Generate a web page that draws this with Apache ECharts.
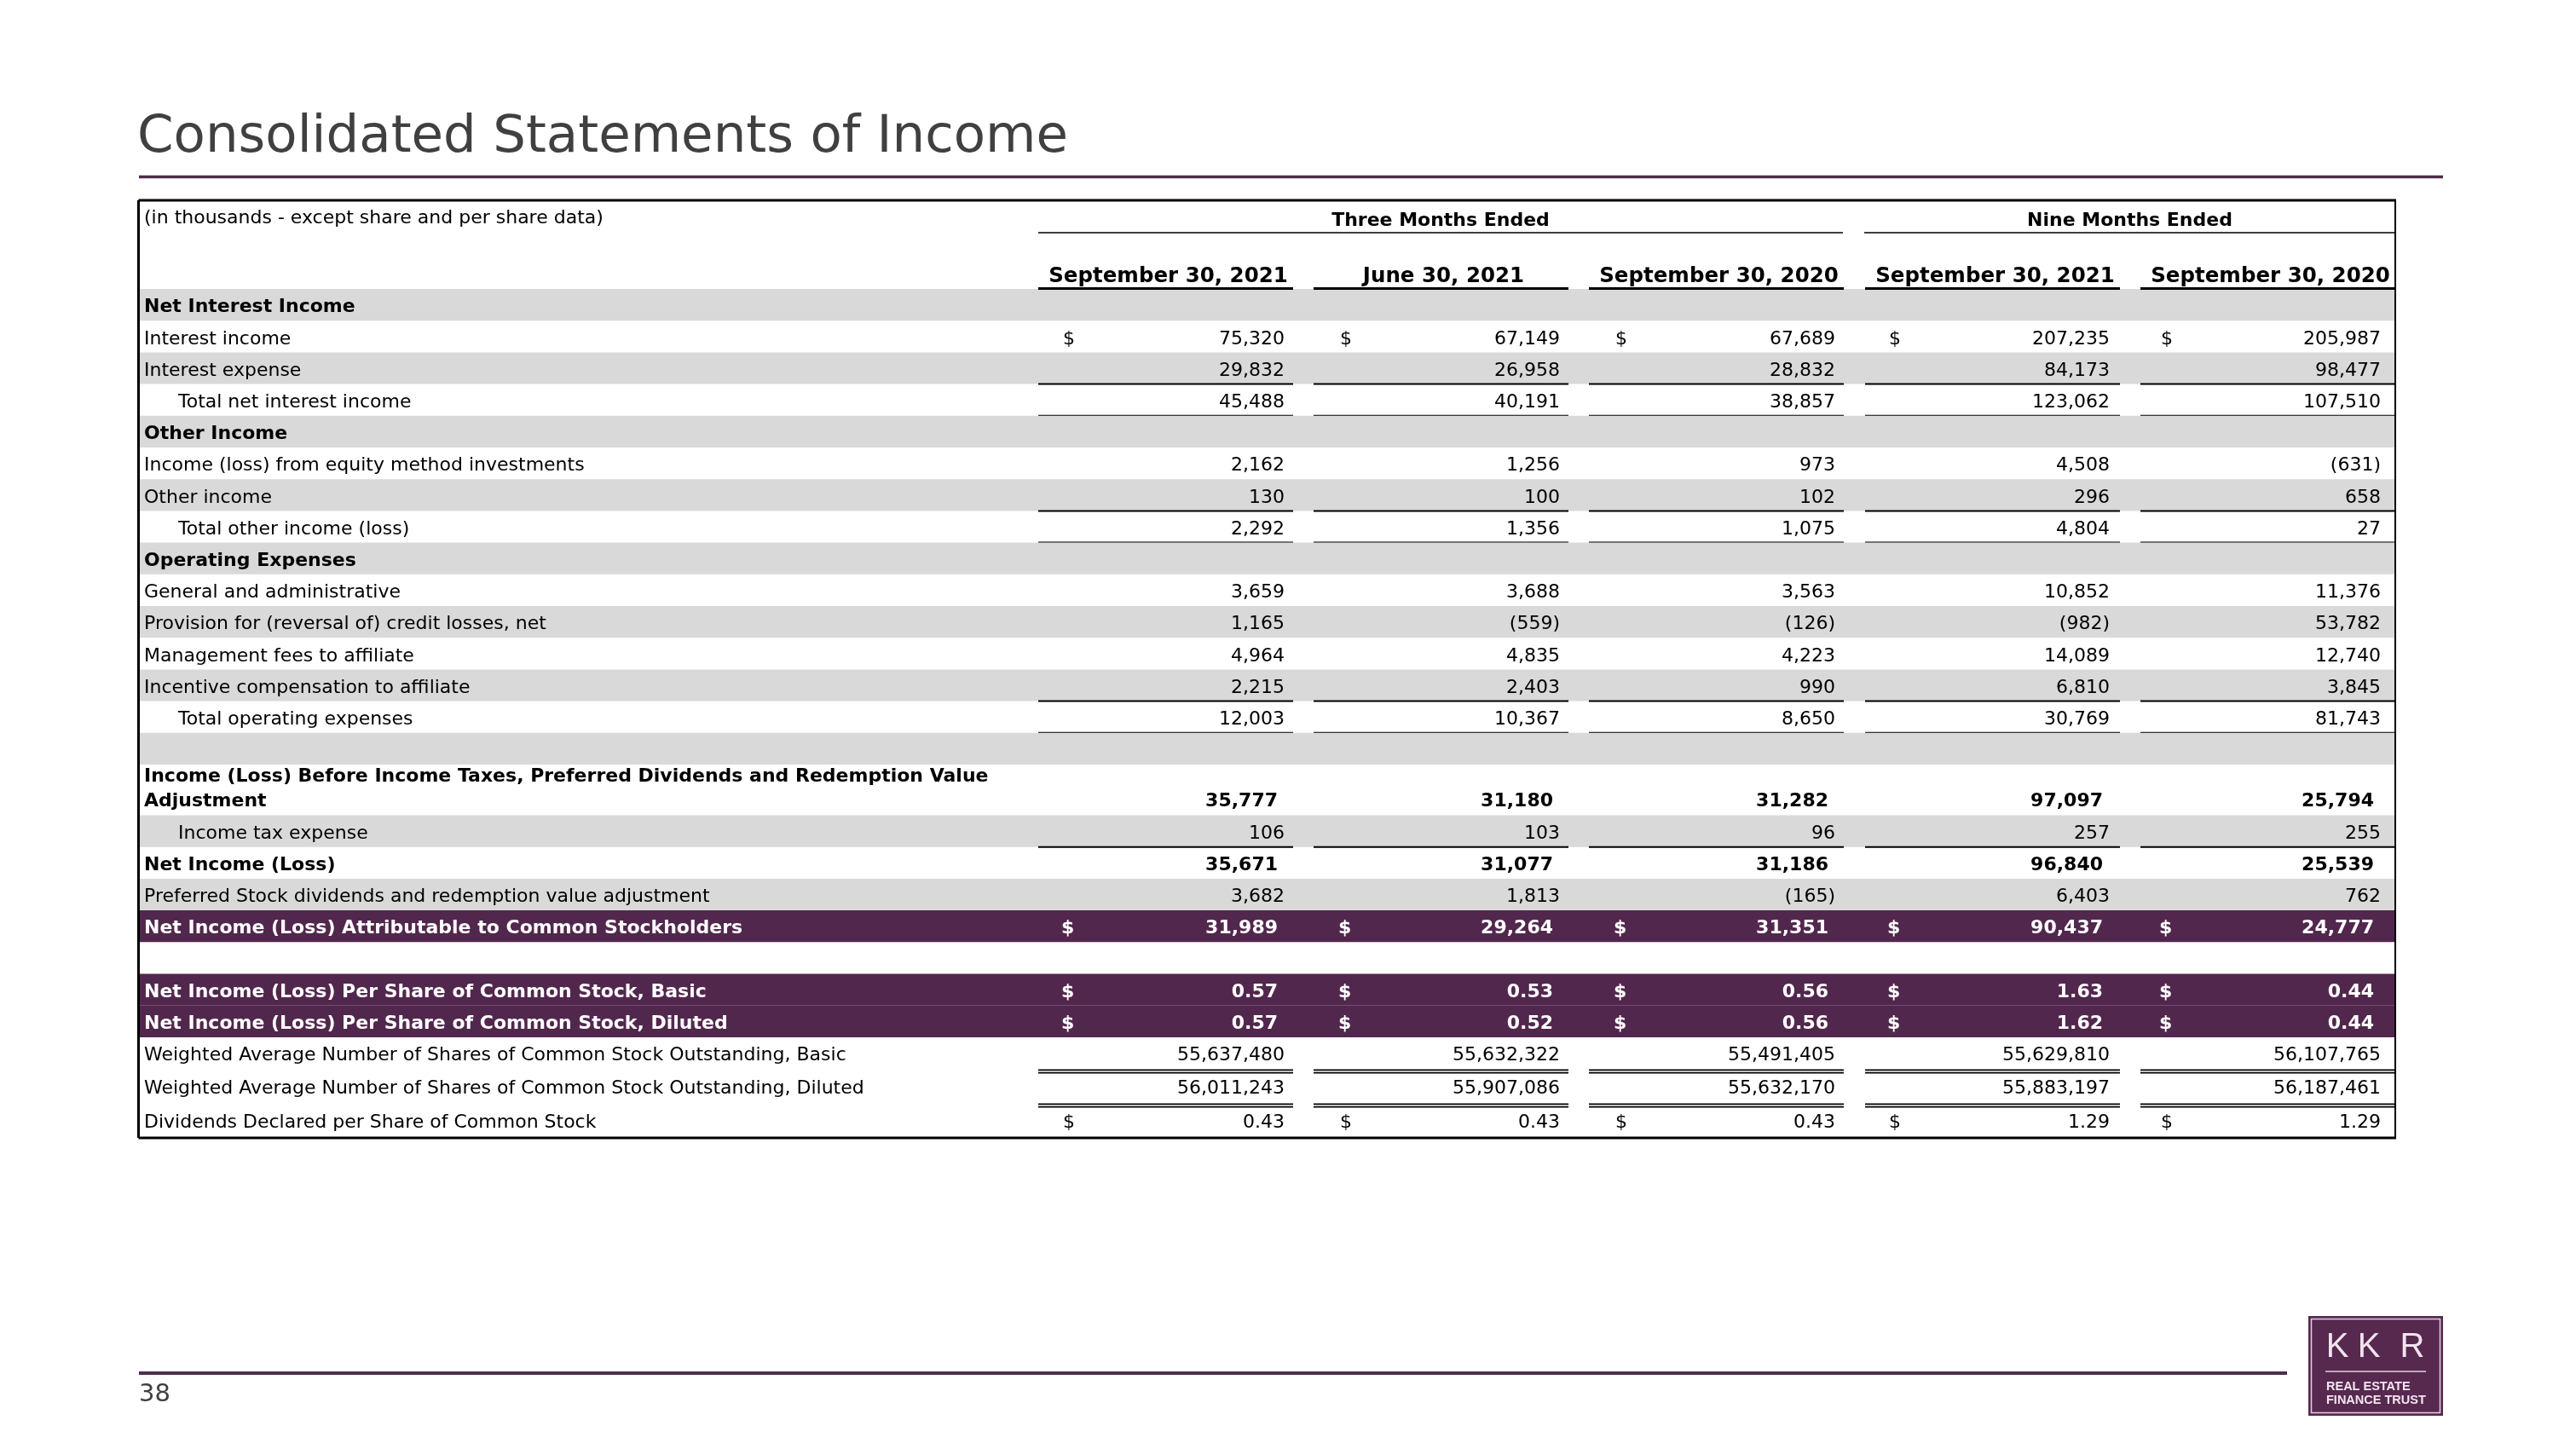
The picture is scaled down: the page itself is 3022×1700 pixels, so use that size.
<!DOCTYPE html>
<html>
<head>
<meta charset="utf-8">
<script src="https://cdn.jsdelivr.net/npm/echarts@6/dist/echarts.min.js"></script>
<style>html,body{margin:0;padding:0;background:#fff}#c{width:3022px;height:1700px}</style>
</head>
<body>
<div id="c"></div>
<script>
// ---------------- data ----------------
const pageTitle = 'Consolidated Statements of Income';
const unitNote = '(in thousands - except share and per share data)';
const groupHeaders = ['Three Months Ended', 'Nine Months Ended'];
const columnHeaders = ['September 30, 2021', 'June 30, 2021', 'September 30, 2020', 'September 30, 2021', 'September 30, 2020'];
const pageNumber = '38';

const rowLabels = [
  'Net Interest Income',
  'Interest income',
  'Interest expense',
  'Total net interest income',
  'Other Income',
  'Income (loss) from equity method investments',
  'Other income',
  'Total other income (loss)',
  'Operating Expenses',
  'General and administrative',
  'Provision for (reversal of) credit losses, net',
  'Management fees to affiliate',
  'Incentive compensation to affiliate',
  'Total operating expenses',
  '',
  'Income (Loss) Before Income Taxes, Preferred Dividends and Redemption Value\nAdjustment',
  'Income tax expense',
  'Net Income (Loss)',
  'Preferred Stock dividends and redemption value adjustment',
  'Net Income (Loss) Attributable to Common Stockholders',
  '',
  'Net Income (Loss) Per Share of Common Stock, Basic',
  'Net Income (Loss) Per Share of Common Stock, Diluted',
  'Weighted Average Number of Shares of Common Stock Outstanding, Basic',
  'Weighted Average Number of Shares of Common Stock Outstanding, Diluted',
  'Dividends Declared per Share of Common Stock'
];

const interestIncome = [75320, 67149, 67689, 207235, 205987];
const interestExpense = [29832, 26958, 28832, 84173, 98477];
const totalNetInterestIncome = [45488, 40191, 38857, 123062, 107510];
const equityMethodIncome = [2162, 1256, 973, 4508, -631];
const otherIncome = [130, 100, 102, 296, 658];
const totalOtherIncome = [2292, 1356, 1075, 4804, 27];
const generalAdmin = [3659, 3688, 3563, 10852, 11376];
const creditLosses = [1165, -559, -126, -982, 53782];
const managementFees = [4964, 4835, 4223, 14089, 12740];
const incentiveComp = [2215, 2403, 990, 6810, 3845];
const totalOpex = [12003, 10367, 8650, 30769, 81743];
const incomeBeforeTaxes = [35777, 31180, 31282, 97097, 25794];
const incomeTax = [106, 103, 96, 257, 255];
const netIncome = [35671, 31077, 31186, 96840, 25539];
const preferredDividends = [3682, 1813, -165, 6403, 762];
const netIncomeCommon = [31989, 29264, 31351, 90437, 24777];
const epsBasic = [0.57, 0.53, 0.56, 1.63, 0.44];
const epsDiluted = [0.57, 0.52, 0.56, 1.62, 0.44];
const sharesBasic = [55637480, 55632322, 55491405, 55629810, 56107765];
const sharesDiluted = [56011243, 55907086, 55632170, 55883197, 56187461];
const dividendsPerShare = [0.43, 0.43, 0.43, 1.29, 1.29];

const rowValues = [
  null, interestIncome, interestExpense, totalNetInterestIncome,
  null, equityMethodIncome, otherIncome, totalOtherIncome,
  null, generalAdmin, creditLosses, managementFees, incentiveComp, totalOpex,
  null, incomeBeforeTaxes, incomeTax, netIncome, preferredDividends, netIncomeCommon,
  null, epsBasic, epsDiluted, sharesBasic, sharesDiluted, dividendsPerShare
];
const dollarRows = [1, 19, 21, 22, 25];
const decimalRows = [21, 22, 25];

// ---------------- layout / style ----------------
const FONT = '"DejaVu Sans", Verdana, sans-serif';
const GRAY = '#D9D9D9';
const PURPLE = '#52274D';
const RULE = '#4E2D4B';
const TITLE_INK = '#404040';
const T = { left: 164, top: 235, right: 2810, bottom: 1335 };
const TW = T.right - T.left, TH = T.bottom - T.top;
const bodyTop = 104;
const rowFill = ['g','w','g','w','g','w','g','w','g','w','g','w','g','w','g','w','g','w','g','p','w','p','p','w','w','w'];
const boldRows = [0, 4, 8, 15, 17, 19, 21, 22];
const indentRows = [3, 7, 13, 16];
const lineTopRows = [3, 7, 13];
const lineBottomRows = [3, 7, 13, 16];
const doubleBottomRows = [23, 24];
const rowH = rowLabels.map((_, i) => i === 15 ? 59.5 : i === 24 ? 40 : i === 25 ? 41 : 37.2);
const rowTop = [];
{ let acc = bodyTop; rowH.forEach(h => { rowTop.push(acc); acc += h; }); }
const colStart = [1218, 1541, 1864, 2188, 2511].map(v => v - T.left);
const colWidth = 299;
const numRight = [1507, 1830, 2153, 2475, 2793].map(v => v - T.left);
const dollarLeft = [1247, 1572, 1895, 2216, 2535].map(v => v - T.left);
const TEXT_DY = 3;

function fmt(v, dec) {
  const s = Math.abs(v).toLocaleString('en-US', { minimumFractionDigits: dec, maximumFractionDigits: dec });
  return v < 0 ? '(' + s + ')' : s;
}

function renderRow(params, api) {
  const i = api.value(0);
  const top = rowTop[i], h = rowH[i];
  const p0 = api.coord([0, top]);
  const p1 = api.coord([TW, top + h]);
  const children = [];
  const fill = rowFill[i] === 'g' ? GRAY : rowFill[i] === 'p' ? PURPLE : null;
  if (fill) {
    children.push({ type: 'rect', shape: { x: p0[0], y: p0[1], width: p1[0] - p0[0], height: p1[1] - p0[1] }, style: { fill: fill } });
  }
  const bold = boldRows.indexOf(i) >= 0;
  const color = rowFill[i] === 'p' ? '#FFFFFF' : '#000000';
  const cy = (p0[1] + p1[1]) / 2 + TEXT_DY;
  const labelX = api.coord([indentRows.indexOf(i) >= 0 ? 45 : 5, 0])[0];
  const twoLine = rowLabels[i].indexOf('\n') >= 0;
  const labelY = twoLine ? cy - 4 : cy;
  const valueY = twoLine ? cy + 10.5 : cy;
  if (rowLabels[i]) {
    children.push({ type: 'text', style: { x: labelX, y: labelY, text: rowLabels[i], fill: color,
      fontFamily: FONT, fontSize: 22, fontWeight: bold ? 'bold' : 'normal', lineHeight: 29,
      align: 'left', verticalAlign: 'middle' } });
  }
  const vals = rowValues[i];
  if (vals) {
    const dec = decimalRows.indexOf(i) >= 0 ? 2 : 0;
    vals.forEach((v, c) => {
      const rx = api.coord([numRight[c] - (bold ? 8 : 0), 0])[0];
      children.push({ type: 'text', style: { x: rx, y: valueY, text: fmt(v, dec), fill: color,
        fontFamily: FONT, fontSize: 22, fontWeight: bold ? 'bold' : 'normal', align: 'right', verticalAlign: 'middle' } });
      if (dollarRows.indexOf(i) >= 0) {
        const dx = api.coord([dollarLeft[c] - (bold ? 2 : 0), 0])[0];
        children.push({ type: 'text', style: { x: dx, y: valueY, text: '$', fill: color,
          fontFamily: FONT, fontSize: 22, fontWeight: bold ? 'bold' : 'normal', align: 'left', verticalAlign: 'middle' } });
      }
    });
  }
  colStart.forEach(cs => {
    const x1 = api.coord([cs, 0])[0], x2 = api.coord([cs + colWidth, 0])[0];
    if (lineTopRows.indexOf(i) >= 0) {
      children.push({ type: 'line', shape: { x1: x1, y1: p0[1], x2: x2, y2: p0[1] }, style: { stroke: '#000', lineWidth: 2 } });
    }
    if (lineBottomRows.indexOf(i) >= 0) {
      children.push({ type: 'line', shape: { x1: x1, y1: p1[1], x2: x2, y2: p1[1] }, style: { stroke: '#000', lineWidth: 2 } });
    }
    if (doubleBottomRows.indexOf(i) >= 0) {
      children.push({ type: 'line', shape: { x1: x1, y1: p1[1] + 1.3, x2: x2, y2: p1[1] + 1.3 }, style: { stroke: '#000', lineWidth: 1.8 } });
      children.push({ type: 'line', shape: { x1: x1, y1: p1[1] + 4.6, x2: x2, y2: p1[1] + 4.6 }, style: { stroke: '#000', lineWidth: 1.8 } });
    }
  });
  return { type: 'group', children: children };
}

// ---------------- header / page graphics ----------------
const graphics = [];
graphics.push({ type: 'text', left: 161, top: 132, z: 10, style: { text: pageTitle, fill: TITLE_INK, fontFamily: FONT, fontSize: 61 } });
graphics.push({ type: 'line', z: 10, shape: { x1: 163, y1: 207.5, x2: 2866, y2: 207.5 }, style: { stroke: RULE, lineWidth: 3.5 } });
graphics.push({ type: 'text', z: 10, x: 169, y: 256, style: { text: unitNote, fill: '#000', fontFamily: FONT, fontSize: 22, align: 'left', verticalAlign: 'middle' } });
const groupSpans = [[1218, 2162], [2187, 2810]];
groupHeaders.forEach((g, k) => {
  const sp = groupSpans[k];
  graphics.push({ type: 'text', z: 10, x: (sp[0] + sp[1]) / 2, y: 259, style: { text: g, fill: '#000', fontFamily: FONT, fontSize: 22, fontWeight: 'bold', align: 'center', verticalAlign: 'middle' } });
  graphics.push({ type: 'line', z: 10, shape: { x1: sp[0], y1: 273, x2: sp[1], y2: 273 }, style: { stroke: '#000', lineWidth: 1.5 } });
});
columnHeaders.forEach((h, c) => {
  const x0 = colStart[c] + T.left;
  graphics.push({ type: 'text', z: 10, x: x0 + colWidth / 2 + 3, y: 325, style: { text: h, fill: '#000', fontFamily: FONT, fontSize: 24.5, fontWeight: 'bold', align: 'center', verticalAlign: 'middle' } });
  graphics.push({ type: 'line', z: 10, shape: { x1: x0, y1: 338.5, x2: Math.min(x0 + colWidth, T.right), y2: 338.5 }, style: { stroke: '#000', lineWidth: 3 } });
});
// table border
graphics.push({ type: 'line', z: 20, shape: { x1: T.left - 1.5, y1: T.top, x2: T.right + 1, y2: T.top }, style: { stroke: '#000', lineWidth: 3 } });
graphics.push({ type: 'line', z: 20, shape: { x1: T.left - 1.5, y1: T.bottom, x2: T.right + 1, y2: T.bottom }, style: { stroke: '#000', lineWidth: 3 } });
graphics.push({ type: 'line', z: 20, shape: { x1: T.left - 1.5, y1: T.top, x2: T.left - 1.5, y2: T.bottom }, style: { stroke: '#000', lineWidth: 3 } });
graphics.push({ type: 'line', z: 20, shape: { x1: T.right, y1: T.top, x2: T.right, y2: T.bottom }, style: { stroke: '#000', lineWidth: 2 } });
// footer
graphics.push({ type: 'line', z: 10, shape: { x1: 163, y1: 1611, x2: 2683, y2: 1611 }, style: { stroke: RULE, lineWidth: 4 } });
graphics.push({ type: 'text', z: 10, x: 163, y: 1636, style: { text: pageNumber, fill: TITLE_INK, fontFamily: FONT, fontSize: 29, align: 'left', verticalAlign: 'middle' } });
// logo
const LOGO_INK = '#F2E4EF';
const LOGO_FONT = '"Liberation Sans", Arial, sans-serif';
graphics.push({ type: 'rect', z: 10, shape: { x: 2708, y: 1544, width: 158, height: 117 }, style: { fill: '#57294F' } });
graphics.push({ type: 'rect', z: 11, shape: { x: 2711.5, y: 1547.5, width: 151, height: 110 }, style: { fill: 'none', stroke: '#E6CFE2', lineWidth: 1.5 } });
['K', 'K', 'R'].forEach((ch, k) => {
  graphics.push({ type: 'text', z: 12, x: [2742, 2779, 2830][k], y: 1581, style: { text: ch, fill: LOGO_INK, fontFamily: LOGO_FONT, fontSize: 40, align: 'center', verticalAlign: 'middle' } });
});
graphics.push({ type: 'line', z: 12, shape: { x1: 2728, y1: 1609, x2: 2846, y2: 1609 }, style: { stroke: '#E6CFE2', lineWidth: 1.5 } });
graphics.push({ type: 'text', z: 12, x: 2729, y: 1627, style: { text: 'REAL ESTATE', fill: LOGO_INK, fontFamily: LOGO_FONT, fontSize: 14.5, fontWeight: 'bold', align: 'left', verticalAlign: 'middle' } });
graphics.push({ type: 'text', z: 12, x: 2729, y: 1643, style: { text: 'FINANCE TRUST', fill: LOGO_INK, fontFamily: LOGO_FONT, fontSize: 14.5, fontWeight: 'bold', align: 'left', verticalAlign: 'middle' } });

const chart = echarts.init(document.getElementById('c'), null, { renderer: 'canvas', width: 3022, height: 1700 });
chart.setOption({
  animation: false,
  backgroundColor: '#FFFFFF',
  grid: { left: T.left, top: T.top, width: TW, height: TH, containLabel: false },
  xAxis: { type: 'value', min: 0, max: TW, show: false },
  yAxis: { type: 'value', min: 0, max: TH, inverse: true, show: false },
  graphic: { elements: graphics },
  series: [{
    type: 'custom',
    renderItem: renderRow,
    clip: false,
    silent: true,
    encode: { x: -1, y: 0 },
    data: rowLabels.map((_, i) => [i]),
    z: 2
  }]
});
</script>
</body>
</html>
